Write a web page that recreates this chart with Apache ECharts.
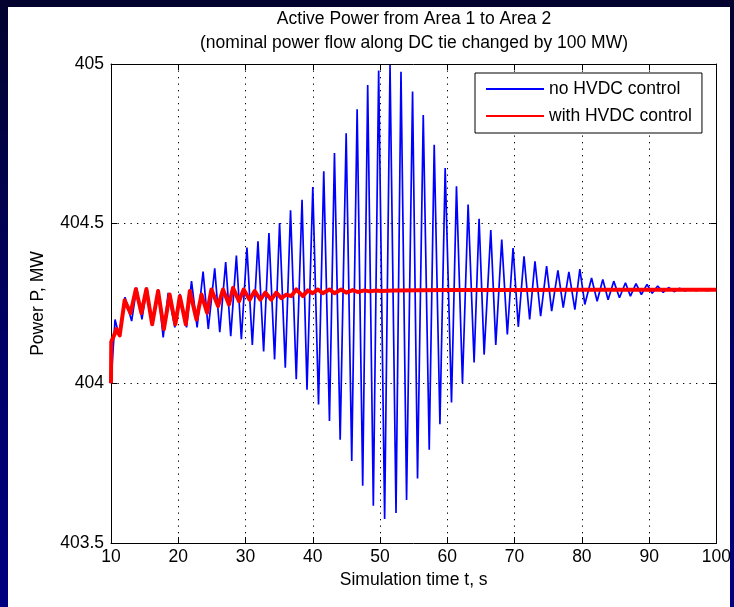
<!DOCTYPE html>
<html>
<head>
<meta charset="utf-8">
<script src="https://cdn.jsdelivr.net/npm/echarts@6/dist/echarts.min.js"></script>
<style>
  html, body { margin: 0; padding: 0; }
  body { width: 734px; height: 607px; background: linear-gradient(to bottom, #03032e 0%, #00006a 60%, #000080 100%); position: relative; overflow: hidden; }
  #fig { position: absolute; left: 8px; top: 7px; width: 722px; height: 600px; background: #ffffff; }
  #chart { position: absolute; left: 0; top: 0; width: 734px; height: 607px; }
</style>
</head>
<body>
<div id="fig"></div>
<div id="chart"></div>
<script>
// ---- Data ----
const titleLines = ['Active Power from Area 1 to Area 2', '(nominal power flow along DC tie changed by 100 MW)'];
const xName = 'Simulation time t, s';
const yName = 'Power P, MW';
const seriesNames = ['no HVDC control', 'with HVDC control'];

// Blue trace (no HVDC control): successive local extrema (time s, power MW)
const blueTime = [10, 10.6, 11.19, 12.08, 13.07, 13.81, 14.60, 15.34, 16.18, 17.01, 17.76, 18.50, 19.49, 20.23, 21.23, 21.97, 22.80, 23.69, 24.46, 25.42, 26.17, 27.05, 27.80, 28.64, 29.38, 30.21, 31.01, 31.85, 32.69, 33.48, 34.32, 35.06, 35.91, 36.69, 37.54, 38.40, 39.14, 40.00, 40.85, 41.63, 42.48, 43.22, 44.07, 44.96, 45.79, 46.59, 47.42, 48.16, 49.00, 49.79, 50.68, 51.48, 52.37, 53.11, 53.94, 54.83, 55.57, 56.42, 57.31, 58.05, 58.90, 59.68, 60.62, 61.36, 62.25, 63.09, 63.98, 64.72, 65.47, 66.46, 67.20, 68.09, 68.92, 69.77, 70.55, 71.40, 72.24, 73.03, 73.87, 74.76, 75.51, 76.44, 77.23, 78.07, 78.96, 79.70, 80.44, 81.44, 82.27, 83.11, 83.90, 84.74, 85.59, 86.48, 87.22, 88.05, 88.85, 89.68, 90.45, 91.27, 92.09, 92.90, 93.72, 94.53, 95.35, 96.16, 96.98, 97.80, 98.61, 99.43, 100];
const blueValue = [404.0, 404.20, 404.15, 404.27, 404.195, 404.30, 404.20, 404.30, 404.18, 404.294, 404.144, 404.283, 404.175, 404.28, 404.175, 404.32, 404.175, 404.35, 404.17, 404.36, 404.16, 404.38, 404.148, 404.40, 404.138, 404.425, 404.12, 404.445, 404.10, 404.471, 404.075, 404.502, 404.049, 404.542, 404.013, 404.575, 403.98, 404.615, 403.934, 404.664, 403.882, 404.721, 403.823, 404.783, 403.757, 404.858, 403.679, 404.934, 403.617, 404.98, 403.575, 404.997, 403.594, 404.976, 403.635, 404.914, 403.702, 404.84, 403.792, 404.747, 403.872, 404.674, 403.94, 404.617, 404.00, 404.56, 404.065, 404.515, 404.09, 404.48, 404.12, 404.45, 404.153, 404.424, 404.177, 404.398, 404.20, 404.382, 404.21, 404.367, 404.226, 404.354, 404.237, 404.349, 404.231, 404.358, 404.247, 404.33, 404.257, 404.325, 404.262, 404.32, 404.268, 404.315, 404.273, 404.312, 404.278, 404.31, 404.282, 404.305, 404.285, 404.30, 404.287, 404.298, 404.289, 404.296, 404.29, 404.295, 404.29, 404.294, 404.292];

// Red trace (with HVDC control): successive local extrema (time s, power MW)
const redTime = [10, 10.04, 10.55, 10.79, 11.29, 12.03, 12.9, 13.7, 14.52, 15.26, 16.12, 17.0, 17.86, 18.72, 19.57, 20.23, 21.12, 21.72, 22.71, 23.45, 24.28, 24.93, 25.91, 26.65, 27.54, 28.14, 29.03, 29.72, 30.61, 31.36, 32.20, 32.94, 33.83, 34.57, 35.32, 36.06, 36.80, 37.54, 38.52, 39.26, 40.00, 40.74, 41.49, 42.48, 43.22, 44.21, 44.96, 45.93, 46.68, 47.67, 48.41, 49.40, 50.15, 52, 60, 70, 80, 90, 100];
const redValue = [404.0, 404.13, 404.155, 404.17, 404.15, 404.26, 404.22, 404.295, 404.22, 404.295, 404.185, 404.289, 404.17, 404.278, 404.185, 404.273, 404.185, 404.289, 404.20, 404.278, 404.221, 404.294, 404.242, 404.294, 404.247, 404.299, 404.257, 404.294, 404.262, 404.289, 404.262, 404.284, 404.262, 404.284, 404.267, 404.278, 404.273, 404.294, 404.273, 404.291, 404.282, 404.294, 404.282, 404.294, 404.282, 404.294, 404.284, 404.292, 404.286, 404.291, 404.288, 404.291, 404.289, 404.291, 404.292, 404.292, 404.293, 404.293, 404.293];

// Axis scales
const xMin = 10, xMax = 100, xStep = 10;
const yMin = 403.5, yMax = 405, yStep = 0.5;

// ---- Chart ----
const FONT = '"Liberation Sans", Arial, Helvetica, sans-serif';
const FS = 17.5;
const chart = echarts.init(document.getElementById('chart'), null, { renderer: 'canvas' });

function pairs(ts, vs) { return ts.map((t, i) => [t, vs[i]]); }

const axisCommon = {
  type: 'value',
  axisLine: { show: true, lineStyle: { color: '#000', width: 1 } },
  axisTick: { show: true, inside: true, length: 6, lineStyle: { color: '#000', width: 1 } }
};

chart.setOption({
  animation: false,
  backgroundColor: 'transparent',
  textStyle: { fontFamily: FONT, color: '#000' },
  title: [
    { text: titleLines[0], left: 414, top: 9, textAlign: 'center', padding: 0,
      textStyle: { fontFamily: FONT, fontSize: FS, fontWeight: 'normal', color: '#000', lineHeight: 20 } },
    { text: titleLines[1], left: 414, top: 33, textAlign: 'center', padding: 0,
      textStyle: { fontFamily: FONT, fontSize: FS, fontWeight: 'normal', color: '#000', lineHeight: 20 } }
  ],
  legend: {
    orient: 'vertical',
    left: 475, top: 73,
    padding: [7, 10, 8, 10],
    itemGap: 9,
    itemWidth: 58, itemHeight: 14,
    backgroundColor: '#fff',
    borderColor: '#000', borderWidth: 1,
    itemStyle: { opacity: 0 },
    textStyle: { fontFamily: FONT, fontSize: FS, color: '#000', lineHeight: 18 },
    data: seriesNames
  },
  grid: { left: 111, right: 16, top: 64, bottom: 64, containLabel: false },
  xAxis: [
    Object.assign({}, axisCommon, {
      min: xMin, max: xMax, interval: xStep, position: 'bottom',
      name: xName, nameLocation: 'middle', nameGap: 28,
      nameTextStyle: { fontFamily: FONT, fontSize: FS, color: '#000' },
      axisLabel: { show: true, margin: 5, fontFamily: FONT, fontSize: FS, color: '#000' },
      splitLine: { show: true, lineStyle: { color: '#000', width: 1, type: [1.3, 5.2] } }
    }),
    Object.assign({}, axisCommon, {
      min: xMin, max: xMax, interval: xStep, position: 'top',
      axisLabel: { show: false }, splitLine: { show: false }
    })
  ],
  yAxis: [
    Object.assign({}, axisCommon, {
      min: yMin, max: yMax, interval: yStep, position: 'left',
      name: yName, nameLocation: 'middle', nameGap: 64,
      nameTextStyle: { fontFamily: FONT, fontSize: FS, color: '#000' },
      axisLabel: { show: true, margin: 7, fontFamily: FONT, fontSize: FS, color: '#000' },
      splitLine: { show: true, lineStyle: { color: '#000', width: 1, type: [1.3, 5.2] } }
    }),
    Object.assign({}, axisCommon, {
      min: yMin, max: yMax, interval: yStep, position: 'right',
      axisLabel: { show: false }, splitLine: { show: false }
    })
  ],
  series: [
    {
      name: seriesNames[0], type: 'line', xAxisIndex: 0, yAxisIndex: 0,
      data: pairs(blueTime, blueValue),
      symbol: 'none', showSymbol: false, smooth: false,
      lineStyle: { color: '#0000ff', width: 1.7 },
      itemStyle: { color: '#0000ff' },
      z: 2
    },
    {
      name: seriesNames[1], type: 'line', xAxisIndex: 0, yAxisIndex: 0,
      data: pairs(redTime, redValue),
      symbol: 'none', showSymbol: false, smooth: false,
      lineStyle: { color: '#ff0000', width: 4, join: 'round' },
      itemStyle: { color: '#ff0000' },
      z: 3
    }
  ]
});
</script>
</body>
</html>
